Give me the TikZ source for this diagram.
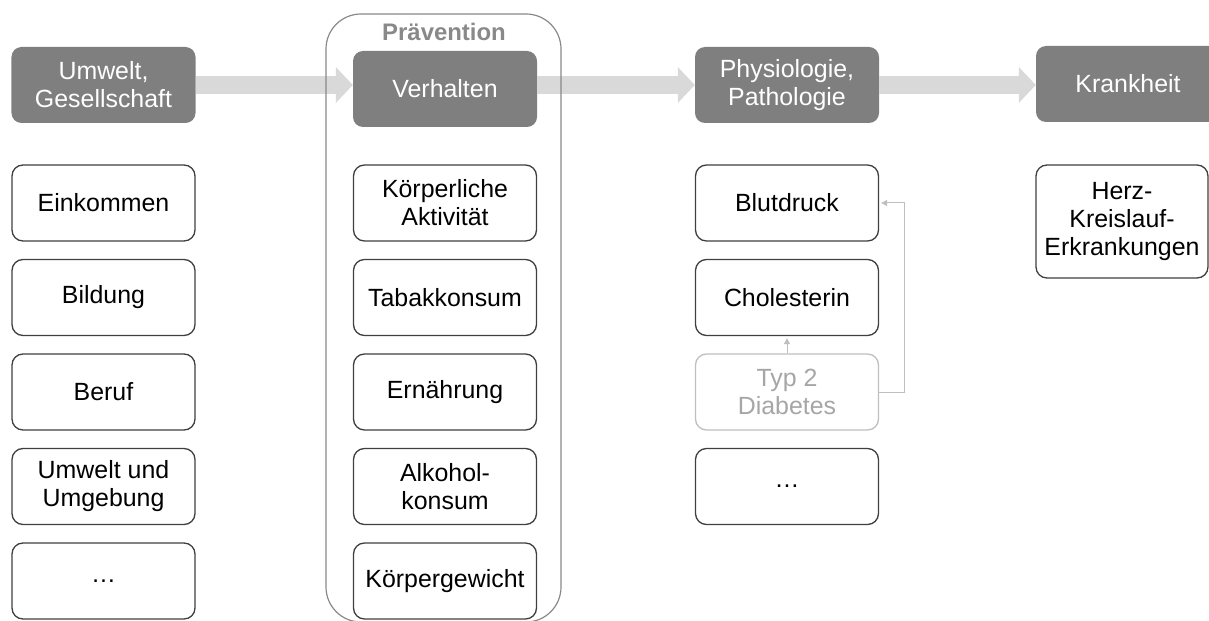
\documentclass[tikz,border=0pt]{standalone}
\usepackage{fontspec}
\setmainfont{Liberation Sans}
\usetikzlibrary{arrows.meta,positioning}
\definecolor{headGray}  {RGB}{127,127,127}
\definecolor{flowGray}  {RGB}{217,217,217}
\definecolor{frameGray} {RGB}{64, 64, 64}
\definecolor{fadeGray}  {RGB}{191,191,191}
\definecolor{fadeText}  {RGB}{166,166,166}
\definecolor{prevGray}  {RGB}{137,137,137}

\begin{document}
\begin{tikzpicture}[x=1bp,y=-1bp,
    head/.style={fill=headGray,text=white,rounded corners=10bp,
      minimum width=184bp,minimum height=76bp,inner sep=0pt,align=center,
      font=\fontsize{25}{28}\selectfont},
    item/.style={draw=frameGray,line width=1.3bp,fill=white,rounded corners=11bp,
      minimum width=183bp,minimum height=76bp,inner sep=0pt,align=center,
      font=\fontsize{25}{28}\selectfont},
    faded/.style={item,draw=fadeGray,text=fadeText},
    flow/.style={draw=flowGray,line width=18bp,-{Triangle[length=17bp,width=35bp]}},
    link/.style={draw=fadeGray,line width=1bp,-{Triangle[length=6bp,width=6bp]},
      shorten >=2bp}]
  \useasboundingbox (0,0) rectangle (1209,621);
  \clip (0,0) rectangle (1209,621);

  % Kopfzeile
  \node[head] (umwelt)    at (103.5,85) {Umwelt,\\Gesellschaft};
  \node[head] (verhalten) at (445,89)   {Verhalten};
  \node[head] (physio)    at (787,85)   {Physiologie,\\Pathologie};
  \node[head] (krank)     at (1128,84)  {Krankheit};

  % Spalten
  \foreach \row/\txt in {1/Einkommen, 2/Bildung, 3/Beruf,
                         4/{Umwelt und\\Umgebung}, 5/…}{
    \node[item] (env\row) at (103.5,{108.5+94.5*\row}) {\txt};
  }
  \foreach \row/\txt in {1/{Körperliche\\Aktivität}, 2/Tabakkonsum, 3/Ernährung,
                         4/{Alkohol-\\konsum}, 5/Körpergewicht}{
    \node[item] (beh\row) at (445,{108.5+94.5*\row}) {\txt};
  }
  \node[item]  (blut)  at (787,203)   {Blutdruck};
  \node[item]  (chol)  at (787,297.5) {Cholesterin};
  \node[faded] (typ)   at (787,392)   {Typ 2\\Diabetes};
  \node[item]  (phys4) at (787,486.5) {…};
  \node[item,minimum width=172bp,minimum height=113bp] (herz) at (1122,221.5)
    {Herz-\\Kreislauf-\\Erkrankungen};

  % Pfeile
  \draw[flow] (umwelt.east) -- (umwelt.east -| verhalten.west);
  \draw[flow] (verhalten.east |- physio.west) -- (physio.west);
  \draw[flow] (physio.east) -- (physio.east -| krank.west);
  \draw[link] (typ.north) -- (chol.south);
  \draw[link] (typ.east) -- ++(25,0) |- (blut.east);

  % Praevention
  \node[draw=prevGray,line width=1.2bp,rounded corners=35bp,inner sep=0pt,
    minimum width=235bp,minimum height=608bp] (praev) at (443.5,318) {};
  \node[font=\bfseries\fontsize{24}{26}\selectfont,text=prevGray] (praevtitle)
    at (444,32) {Prävention};
\end{tikzpicture}
\end{document}
